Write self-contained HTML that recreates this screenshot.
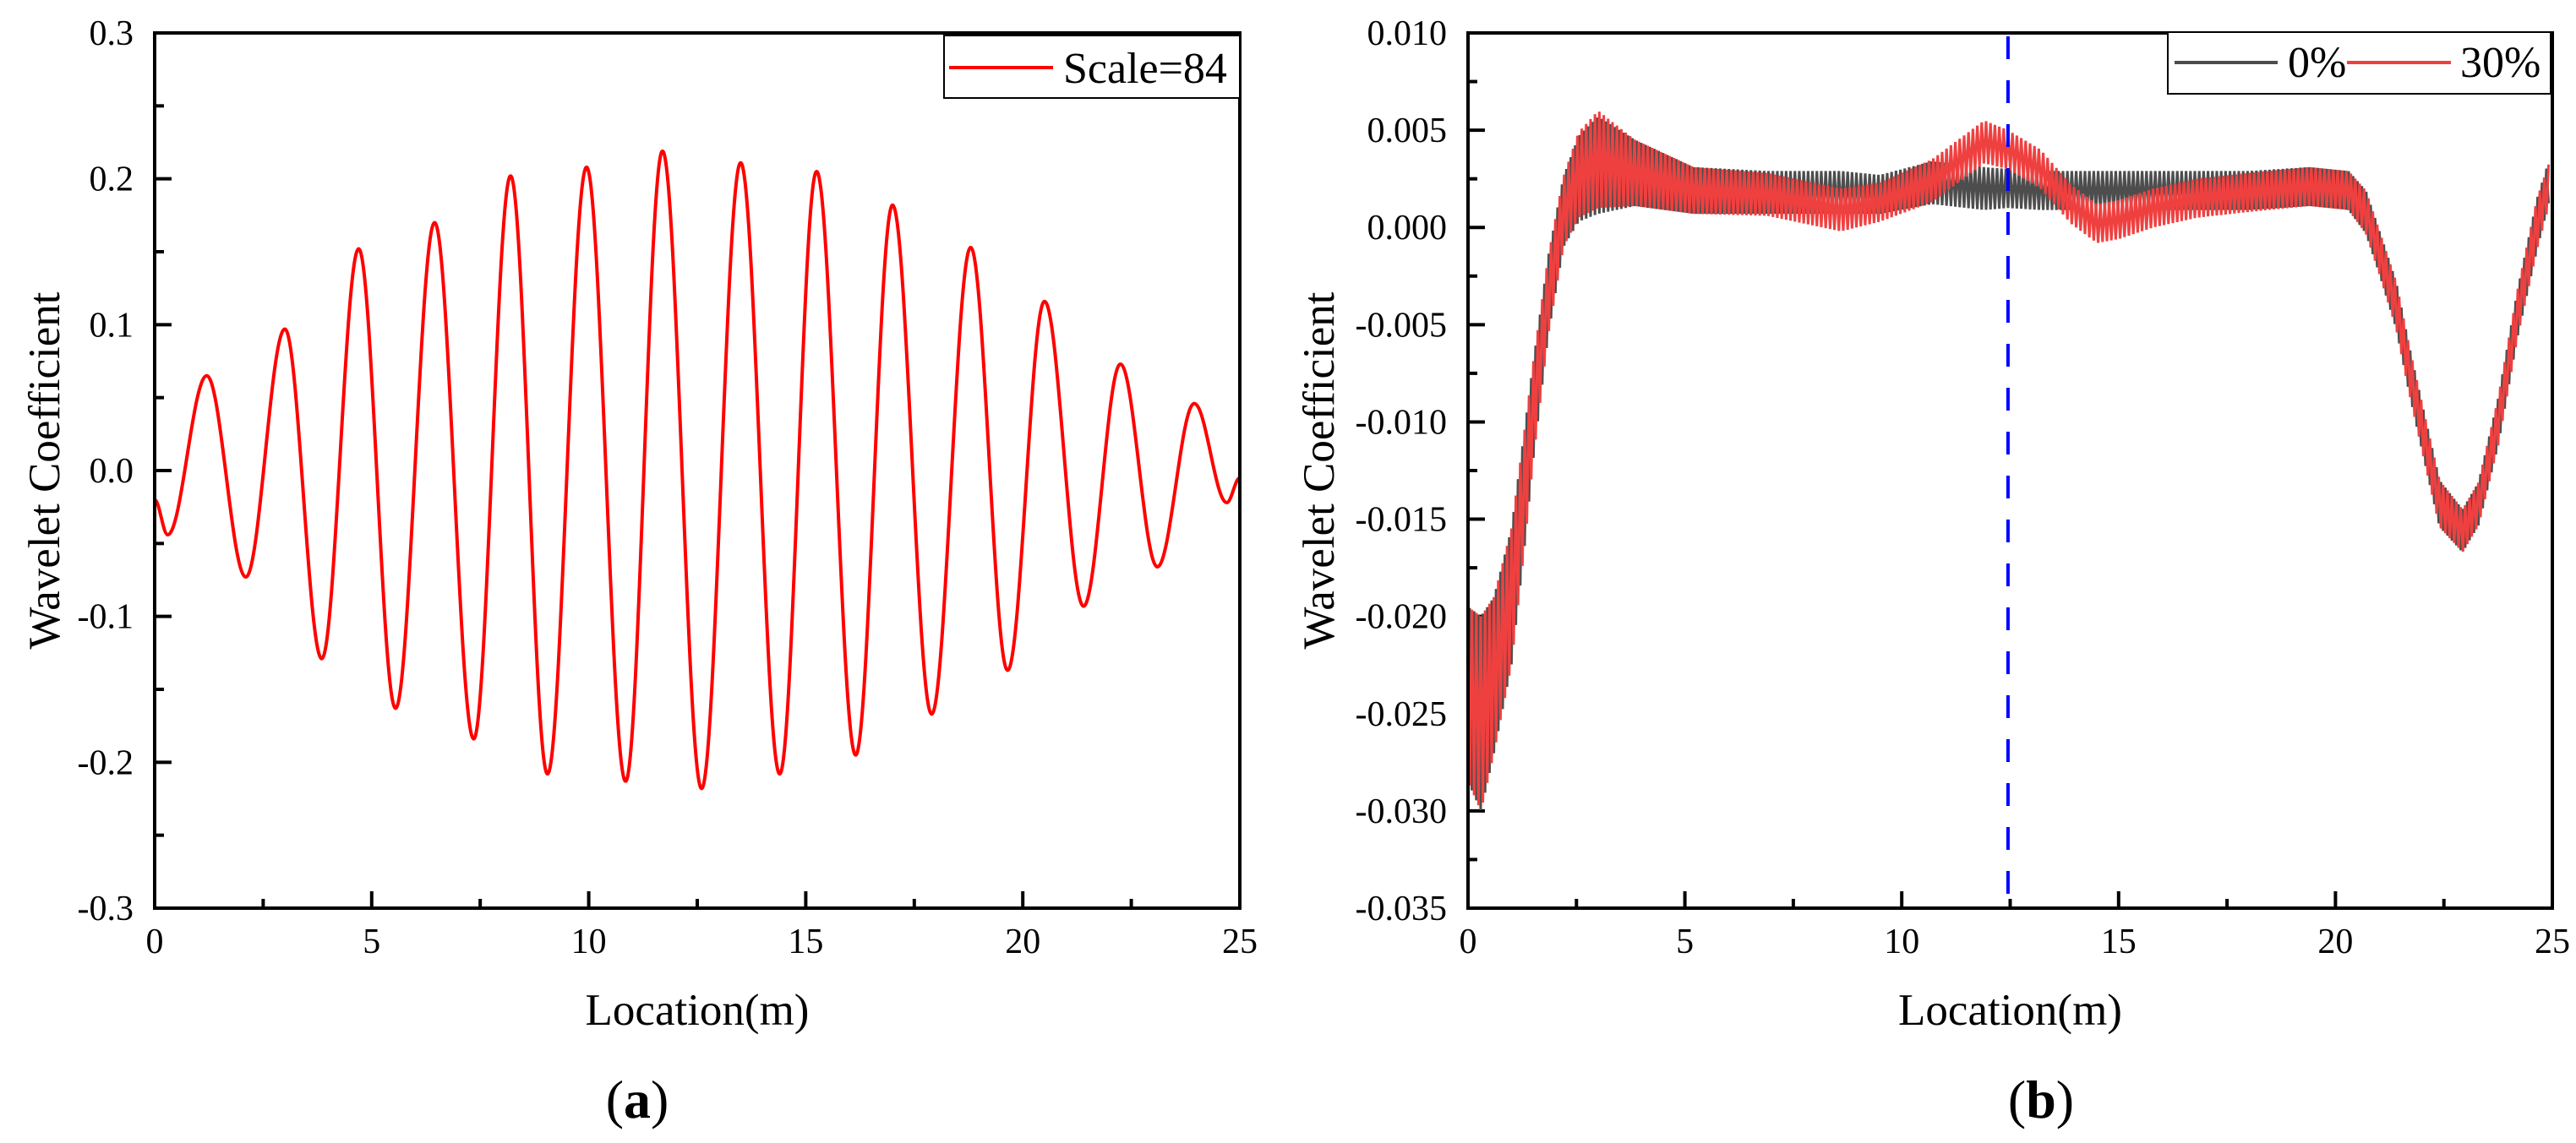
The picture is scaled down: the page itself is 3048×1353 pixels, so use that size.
<!DOCTYPE html>
<html><head><meta charset="utf-8"><style>
html,body{margin:0;padding:0;background:#fff;}
svg{display:block;}
svg text{font-family:"Liberation Serif","Times New Roman",serif;fill:#000;}
</style></head><body>
<svg id="fig" width="3048" height="1353" viewBox="0 0 3048 1353" xmlns="http://www.w3.org/2000/svg" font-family="Liberation Serif, serif"></svg>
<script>
// ---- Panel (a) data: extrema of the Scale=84 wavelet coefficient ----
const locA = [0, 0.3, 1.2, 2.1, 3.0, 3.85, 4.7, 5.55, 6.45, 7.35, 8.2, 9.05, 9.95, 10.85, 11.7, 12.6, 13.5, 14.4, 15.25, 16.15, 17.0, 17.9, 18.8, 19.65, 20.5, 21.4, 22.25, 23.1, 23.95, 24.7, 25];
const coefA = [-0.02, -0.044, 0.065, -0.073, 0.097, -0.129, 0.152, -0.163, 0.17, -0.184, 0.202, -0.208, 0.208, -0.213, 0.219, -0.218, 0.211, -0.208, 0.205, -0.195, 0.182, -0.167, 0.153, -0.137, 0.116, -0.093, 0.073, -0.066, 0.046, -0.022, -0.005];
const yTicksA = [-0.3, -0.2, -0.1, 0.0, 0.1, 0.2, 0.3];
const yTickLabelsA = ["-0.3", "-0.2", "-0.1", "0.0", "0.1", "0.2", "0.3"];
const xTicks = [0, 5, 10, 15, 20, 25];
const xTickLabels = ["0", "5", "10", "15", "20", "25"];

// ---- Panel (b) data ----
const locB = [0, 0.3, 0.6, 1.0, 1.3, 1.5, 1.85, 2.2, 2.55, 3.0, 3.85, 5.2, 6.9, 8.6, 9.5, 10.7, 11.9, 12.45, 13.2, 13.9, 14.5, 15.0, 15.8, 16.8, 18.0, 19.4, 20.3, 20.7, 21.0, 21.4, 21.7, 22.05, 22.4, 22.93, 23.3, 23.75, 24.2, 24.65, 25];
const coef0 = [-0.024, -0.025, -0.023, -0.019, -0.0135, -0.0095, -0.0035, 0.0008, 0.0025, 0.0032, 0.0028, 0.0019, 0.0018, 0.0018, 0.0017, 0.0023, 0.002, 0.002, 0.0019, 0.0019, 0.0019, 0.0019, 0.0019, 0.0019, 0.0019, 0.0021, 0.0019, 0.0008, -0.0012, -0.004, -0.0073, -0.0108, -0.0142, -0.0156, -0.0142, -0.01, -0.0044, 0.0002, 0.003];
const coef30 = [-0.024, -0.025, -0.023, -0.019, -0.0135, -0.0095, -0.0035, 0.0008, 0.0027, 0.0035, 0.0028, 0.0019, 0.0017, 0.0009, 0.0013, 0.0024, 0.0044, 0.004, 0.003, 0.0012, 0.0002, 0.0004, 0.001, 0.0015, 0.0018, 0.0021, 0.0019, 0.0008, -0.0012, -0.004, -0.0073, -0.0108, -0.0142, -0.0156, -0.0142, -0.01, -0.0044, 0.0002, 0.0028];
const spreadB = [0.0045, 0.005, 0.004, 0.0035, 0.003, 0.0025, 0.002, 0.0018, 0.0022, 0.0025, 0.0017, 0.0012, 0.0011, 0.0011, 0.001, 0.0011, 0.0011, 0.001, 0.001, 0.001, 0.001, 0.001, 0.001, 0.001, 0.001, 0.001, 0.001, 0.0011, 0.0011, 0.0012, 0.0012, 0.0012, 0.0012, 0.0011, 0.0011, 0.0012, 0.0012, 0.0013, 0.001];
const yTicksB = [-0.035, -0.03, -0.025, -0.02, -0.015, -0.01, -0.005, 0.0, 0.005, 0.01];
const yTickLabelsB = ["-0.035", "-0.030", "-0.025", "-0.020", "-0.015", "-0.010", "-0.005", "0.000", "0.005", "0.010"];
const markerLoc = [12.45];

const NS = "http://www.w3.org/2000/svg";
const svg = document.getElementById("fig");
const FONT = '"Liberation Serif", serif';
function mk(tag, attrs, parent) {
  const e = document.createElementNS(NS, tag);
  for (const k in attrs) e.setAttribute(k, attrs[k]);
  if (tag === "text") e.style.fontFamily = FONT;
  (parent || svg).appendChild(e);
  return e;
}

const plotTop = 39, plotBot = 1075;
const A = {l: 183, r: 1467, xmin: 0, xmax: 25, ymin: -0.3, ymax: 0.3};
const B = {l: 1737, r: 3020, xmin: 0, xmax: 25, ymin: -0.035, ymax: 0.01};
function xs(P, v) { return P.l + (v - P.xmin) / (P.xmax - P.xmin) * (P.r - P.l); }
function ys(P, v) { return plotBot - (v - P.ymin) / (P.ymax - P.ymin) * (plotBot - plotTop); }

function axes(P, yTicks, yLabels, yMinorStep, pname) {
  const g = mk("g", {});
  
  
  xTicks.forEach((v, i) => {
    const x = xs(P, v);
    const t = mk("line", {x1: x, x2: x, y1: plotBot, y2: plotBot - 20, stroke: "#000", "stroke-width": 4}, g);
    
    
    const lb = mk("text", {x: x, y: 1128, "font-size": 42, "text-anchor": "middle"}, g);
    lb.textContent = xTickLabels[i];
    
    
    if (i < xTicks.length - 1) {
      const xm = xs(P, v + 2.5);
      const m = mk("line", {x1: xm, x2: xm, y1: plotBot, y2: plotBot - 11, stroke: "#000", "stroke-width": 4}, g);
      
      
    }
  });
  yTicks.forEach((v, i) => {
    const y = ys(P, v);
    const t = mk("line", {x1: P.l, x2: P.l + 20, y1: y, y2: y, stroke: "#000", "stroke-width": 4}, g);
    
    
    const lb = mk("text", {x: P.l - 25, y: y + 14, "font-size": 42, "text-anchor": "end"}, g);
    lb.textContent = yLabels[i];
    
    
    if (i < yTicks.length - 1) {
      const ym = ys(P, v + yMinorStep);
      const m = mk("line", {x1: P.l, x2: P.l + 11, y1: ym, y2: ym, stroke: "#000", "stroke-width": 4}, g);
      
      
    }
  });
  const cx = (P.l + P.r) / 2;
  const xt = mk("text", {x: cx, y: 1213, "font-size": 53, "text-anchor": "middle"}, g);
  xt.textContent = "Location(m)";
  
  
  const ty = (plotTop + plotBot) / 2;
  const tx = pname === 'panel-a' ? 70 : 1578;
  const yt = mk("text", {x: tx, y: ty, "font-size": 53, "text-anchor": "middle", transform: `rotate(-90 ${tx} ${ty})`}, g);
  yt.textContent = "Wavelet Coefficient";
  
  
}

function frame(P, pname) {
  const f = mk("rect", {x: P.l, y: plotTop, width: P.r - P.l, height: plotBot - plotTop, fill: "none", stroke: "#000", "stroke-width": 4});
  
  
}

// ---------- Panel (a) ----------
axes(A, yTicksA, yTickLabelsA, 0.05, 'panel-a');
(function () {
  let d = `M${xs(A, locA[0])},${ys(A, coefA[0])}`;
  for (let i = 1; i < locA.length; i++) {
    const x0 = xs(A, locA[i - 1]), y0 = ys(A, coefA[i - 1]);
    const x1 = xs(A, locA[i]), y1 = ys(A, coefA[i]);
    const dx = x1 - x0;
    d += ` C${x0 + dx * 0.36},${y0} ${x1 - dx * 0.36},${y1} ${x1},${y1}`;
  }
  const p = mk("path", {d: d, fill: "none", stroke: "#ff0000", "stroke-width": 4, "stroke-linejoin": "round"});
  
  
})();
frame(A, 'panel-a');
(function () {
  const g = mk("g", {});
  
  
  mk("rect", {x: 1117, y: 42, width: 350, height: 74, fill: "#fff", stroke: "#000", "stroke-width": 2}, g);
  const l = mk("line", {x1: 1123, x2: 1246, y1: 80, y2: 80, stroke: "#ff0000", "stroke-width": 4}, g);
  
  
  const t = mk("text", {x: 1258, y: 98, "font-size": 52}, g);
  t.textContent = "Scale=84";
  
  
})();

// ---------- Panel (b) ----------
axes(B, yTicksB, yTickLabelsB, 0.0025, 'panel-b');
function interp(arr, x) {
  for (let i = 1; i < locB.length; i++) {
    if (x <= locB[i]) {
      const t = (x - locB[i - 1]) / (locB[i] - locB[i - 1]);
      return arr[i - 1] + t * (arr[i] - arr[i - 1]);
    }
  }
  return arr[arr.length - 1];
}
function noisy(vals, color, sname, phase) {
  let pts = [];
  let k = 0;
  for (let px = B.l + 2; px <= B.r - 2; px += 2.6, k++) {
    const x = B.xmin + (px - B.l) / (B.r - B.l) * (B.xmax - B.xmin);
    const s = interp(spreadB, x) * ((k + phase) % 2 === 0 ? 1 : -1);
    pts.push(px.toFixed(1) + "," + ys(B, interp(vals, x) + s).toFixed(1));
  }
  const p = mk("polyline", {points: pts.join(" "), fill: "none", stroke: color, "stroke-width": 3, "stroke-linejoin": "miter"});
  
  
}
noisy(coef0, "#4d4d4d", "series-0-percent", 0);
noisy(coef30, "#ef4040", "series-30-percent", 1);
markerLoc.forEach(v => {
  const x = xs(B, v);
  const l = mk("line", {x1: x, x2: x, y1: plotTop + 4, y2: plotBot, stroke: "#0000ff", "stroke-width": 4, "stroke-dasharray": "27 25"});
  
  
});
frame(B, 'panel-b');
(function () {
  const g = mk("g", {});
  
  
  mk("rect", {x: 2565, y: 38, width: 453, height: 73, fill: "#fff", stroke: "#000", "stroke-width": 2}, g);
  const l1 = mk("line", {x1: 2573, x2: 2695, y1: 74, y2: 74, stroke: "#4d4d4d", "stroke-width": 4}, g);
  
  
  const t1 = mk("text", {x: 2707, y: 91, "font-size": 52}, g);
  t1.textContent = "0%";
  
  
  const l2 = mk("line", {x1: 2777, x2: 2900, y1: 74, y2: 74, stroke: "#ef4040", "stroke-width": 4}, g);
  
  
  const t2 = mk("text", {x: 2911, y: 91, "font-size": 52}, g);
  t2.textContent = "30%";
  
  
})();

// panel captions
[["(", "a", ")", 754, 'caption-a'], ["(", "b", ")", 2415, 'caption-b']].forEach(c => {
  const t = mk("text", {x: c[3], y: 1323, "font-size": 64, "text-anchor": "middle"});
  
  
  const s1 = mk("tspan", {}, t); s1.textContent = c[0];
  const s2 = mk("tspan", {"font-weight": "bold"}, t); s2.textContent = c[1];
  const s3 = mk("tspan", {}, t); s3.textContent = c[2];
});
</script>
</body></html>
